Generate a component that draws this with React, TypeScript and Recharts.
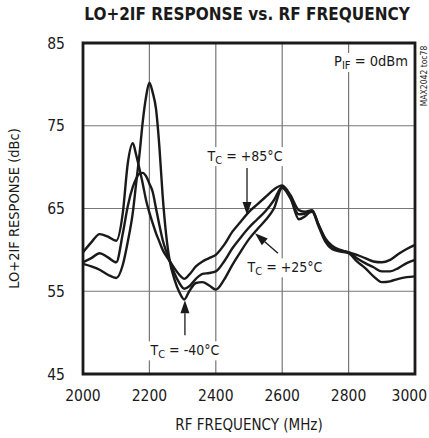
import {
  LineChart,
  Line,
  XAxis,
  YAxis,
  CartesianGrid,
  ReferenceArea,
  ReferenceDot,
} from "recharts";

// RF frequency in MHz
const freq = [
  2000, 2025, 2050, 2075, 2100, 2120, 2135, 2150, 2160, 2170, 2180, 2190, 2200,
  2210, 2220, 2230, 2240, 2250, 2262, 2275, 2290, 2305, 2320, 2340, 2360, 2380,
  2400, 2425, 2450, 2475, 2500, 2525, 2550, 2575, 2600, 2625, 2650, 2670, 2690,
  2710, 2730, 2750, 2775, 2800, 2825, 2850, 2875, 2900, 2925, 2950, 2975, 3000,
];

// LO+2IF response (dBc) at each case temperature
const tc85 = [
  59.7, 60.9, 61.9, 61.6, 61.1, 64.5, 70.5, 72.9, 71.5, 69.8, 68.0, 66.0, 64.5,
  63.2, 62.0, 61.0, 60.0, 59.3, 58.6, 57.8, 57.0, 56.5, 57.0, 58.0, 58.6, 59.0,
  59.4, 60.6, 62.2, 63.4, 64.6, 65.5, 66.4, 67.3, 67.8, 66.6, 64.8, 64.6, 64.8,
  63.0, 61.4, 60.5, 60.0, 59.7, 59.4, 59.0, 58.6, 58.5, 58.8, 59.5, 60.1, 60.6,
];
const tc25 = [
  58.5, 59.0, 59.6, 59.1, 58.5, 62.0, 65.3, 67.6, 68.6, 69.2, 69.3, 68.9, 68.0,
  67.0, 65.0, 63.0, 61.2, 59.9, 58.6, 57.2, 56.0, 55.3, 55.6, 56.5, 57.1, 57.2,
  57.4, 58.6, 60.2, 61.5, 62.7, 63.7, 64.7, 66.0, 67.6, 66.3, 63.7, 64.1, 64.7,
  63.0, 61.2, 60.2, 59.9, 59.7, 59.0, 58.4, 57.9, 57.4, 57.4, 57.8, 58.4, 58.8,
];
const tcm40 = [
  58.3, 58.0, 57.6, 57.0, 56.6, 58.2, 61.0, 64.5, 68.0, 71.5, 75.5, 78.5, 80.2,
  79.0, 77.0, 72.5, 66.5, 62.0, 58.5, 56.5, 54.9, 54.0, 55.0, 56.0, 56.1, 55.7,
  55.2, 56.4, 58.2, 59.8, 61.3, 62.5, 63.6, 65.0, 67.5, 66.2, 64.3, 64.4, 64.6,
  62.8, 61.0, 60.1, 59.8, 59.6, 58.6, 57.8, 56.8, 56.1, 56.2, 56.5, 56.7, 56.8,
];

const xTicks = [2000, 2200, 2400, 2600, 2800, 3000];
const yTicks = [45, 55, 65, 75, 85];

const data = freq.map((f, i) => ({
  f,
  t85: tc85[i],
  t25: tc25[i],
  tm40: tcm40[i],
}));

const FONT = "'DejaVu Sans Condensed', 'Liberation Sans', sans-serif";
const INK = "#1a1a1a";

// arrow tip in data coords, tail / label offsets in px from the tip
const notes = [
  { x: 2494, y: 64.2, tail: [0, -47], label: [-2, -59], temp: "+85°C" },
  { x: 2518, y: 62.0, tail: [23, 20], label: [30, 34], temp: "+25°C" },
  { x: 2307, y: 53.9, tail: [0, 35], label: [0, 50], temp: "-40°C" },
];

const Note = ({ cx, cy, tail, label, temp }: any) => {
  const tx = cx + tail[0];
  const ty = cy + tail[1];
  const len = Math.hypot(cx - tx, cy - ty);
  const ux = (cx - tx) / len;
  const uy = (cy - ty) / len;
  const bx = cx - ux * 13;
  const by = cy - uy * 13;
  const nx = -uy * 4.5;
  const ny = ux * 4.5;
  const lx = cx + label[0];
  const ly = cy + label[1];
  return (
    <g>
      <line x1={tx} y1={ty} x2={bx} y2={by} stroke={INK} strokeWidth={1.3} />
      <polygon
        points={`${cx},${cy} ${bx + nx},${by + ny} ${bx - nx},${by - ny}`}
        fill={INK}
      />
      <rect x={lx - 39} y={ly - 9} width={78} height={19} fill="#fff" />
      <text
        x={lx}
        y={ly + 5}
        textAnchor="middle"
        fontFamily={FONT}
        fontSize={14}
        fill={INK}
      >
        <tspan>T</tspan>
        <tspan fontSize={11} dy={3}>
          C
        </tspan>
        <tspan dy={-3}>{` = ${temp}`}</tspan>
      </text>
    </g>
  );
};

// last label is pulled in so it stays inside the frame
const FreqTick = ({ x, y, payload }: any) => {
  const last = payload.value === xTicks[xTicks.length - 1];
  return (
    <text
      x={last ? 427 : x}
      y={y}
      dy="0.71em"
      textAnchor={last ? "end" : "middle"}
      fontFamily={FONT}
      fontSize={15.5}
      fill={INK}
    >
      {payload.value}
    </text>
  );
};

const XLabel = ({ viewBox }: any) => (
  <text
    x={viewBox.x + viewBox.width / 2}
    y={viewBox.y + 56}
    textAnchor="middle"
    fontFamily={FONT}
    fontSize={15}
    fill={INK}
  >
    RF FREQUENCY (MHz)
  </text>
);

const YLabel = ({ viewBox }: any) => {
  const x = 14;
  const y = viewBox.y + viewBox.height / 2;
  return (
    <text
      x={x}
      y={y}
      transform={`rotate(-90 ${x} ${y})`}
      textAnchor="middle"
      dominantBaseline="central"
      fontFamily={FONT}
      fontSize={14.5}
      fill={INK}
    >
      LO+2IF RESPONSE (dBc)
    </text>
  );
};

export default function App() {
  return (
    <div
      style={{
        position: "absolute",
        left: 0,
        top: 0,
        width: 429,
        height: 438,
        background: "#fff",
        overflow: "hidden",
      }}
    >
      <div
        style={{
          position: "absolute",
          left: 0,
          width: 494,
          top: 4,
          textAlign: "center",
          fontFamily: FONT,
          fontWeight: "bold",
          fontSize: 17,
          color: INK,
          whiteSpace: "nowrap",
        }}
      >
        LO+2IF RESPONSE vs. RF FREQUENCY
      </div>
      <LineChart
        width={429}
        height={438}
        data={data}
        margin={{ top: 43, right: 14, bottom: 0, left: 0 }}
      >
        <CartesianGrid stroke="#777" strokeWidth={1.2} />
        <XAxis
          dataKey="f"
          type="number"
          domain={[2000, 3000]}
          ticks={xTicks}
          tickLine={false}
          axisLine={false}
          height={64}
          tickMargin={10}
          tick={<FreqTick />}
          label={<XLabel />}
        />
        <YAxis
          type="number"
          domain={[45, 85]}
          ticks={yTicks}
          tickLine={false}
          axisLine={false}
          width={83}
          tickMargin={12}
          tick={{ fontSize: 15.5, fontFamily: FONT, fill: INK }}
          label={<YLabel />}
        />
        <Line
          dataKey="t85"
          type="monotone"
          dot={false}
          stroke={INK}
          strokeWidth={2.4}
          isAnimationActive={false}
        />
        <Line
          dataKey="t25"
          type="monotone"
          dot={false}
          stroke={INK}
          strokeWidth={2.4}
          isAnimationActive={false}
        />
        <Line
          dataKey="tm40"
          type="monotone"
          dot={false}
          stroke={INK}
          strokeWidth={2.4}
          isAnimationActive={false}
        />
        <ReferenceArea
          x1={2000}
          x2={3000}
          y1={45}
          y2={85}
          fill="none"
          stroke={INK}
          strokeWidth={2.8}
        />
        {notes.map((n) => (
          <ReferenceDot
            key={n.temp}
            x={n.x}
            y={n.y}
            r={0}
            shape={(p: any) => (
              <Note cx={p.cx} cy={p.cy} tail={n.tail} label={n.label} temp={n.temp} />
            )}
          />
        ))}
      </LineChart>
      <div
        style={{
          position: "absolute",
          left: 332,
          top: 53,
          padding: "0 2px",
          background: "#fff",
          fontFamily: FONT,
          fontSize: 14.5,
          color: INK,
          whiteSpace: "nowrap",
        }}
      >
        P<sub style={{ fontSize: 11, verticalAlign: "-3px" }}>IF</sub> = 0dBm
      </div>
      <div
        style={{
          position: "absolute",
          left: 424,
          top: 76,
          transform: "translate(-50%, -50%) rotate(-90deg)",
          fontFamily: FONT,
          fontSize: 8.5,
          color: INK,
          whiteSpace: "nowrap",
        }}
      >
        MAX2042 toc78
      </div>
    </div>
  );
}
